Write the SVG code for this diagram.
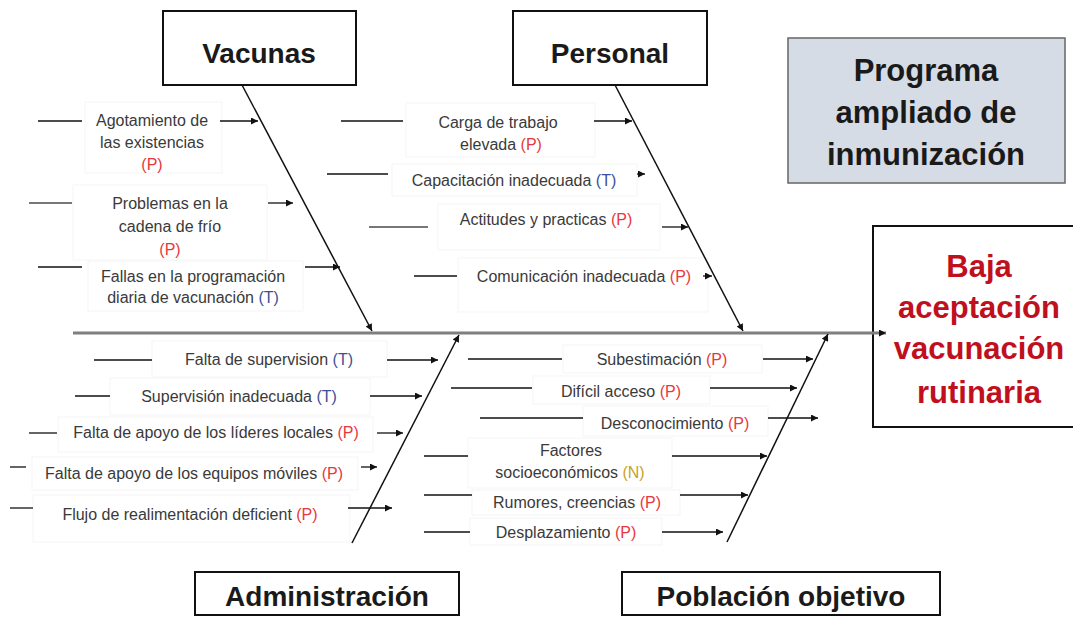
<svg xmlns="http://www.w3.org/2000/svg" width="1073" height="617" viewBox="0 0 1073 617">
<defs>
<style>
.bg{fill:#fff}
.cat{fill:#fff;stroke:#111;stroke-width:2}
.h{font-family:"Liberation Sans",Arial,sans-serif;font-weight:bold;font-size:28px;fill:#1a1a1a;text-anchor:middle}
.hb{font-family:"Liberation Sans",Arial,sans-serif;font-weight:bold;font-size:31px;fill:#1a1a1a;text-anchor:middle}
.eff{font-family:"Liberation Sans",Arial,sans-serif;font-weight:bold;font-size:31px;fill:#c0101e;text-anchor:middle}
.tbox{fill:#fff;stroke:#f5f5f5;stroke-width:1}
.t{font-family:"Liberation Sans",Arial,sans-serif;font-size:16px;fill:#3a3a3a;text-anchor:middle}
.p{fill:#e8383d}
.tt{fill:#3d4f9a}
.n{fill:#c9a227}
.spine{stroke:#7f7f7f;stroke-width:3;fill:none}
.bone{stroke:#111;stroke-width:1.5;fill:none}
.ln{stroke:#111;stroke-width:1.3;fill:none}
.lg{stroke:#777;stroke-width:2;fill:none}
</style>
<marker id="ah" viewBox="0 0 10 10" refX="10" refY="5" markerWidth="9" markerHeight="7" markerUnits="userSpaceOnUse" orient="auto"><path d="M0,0 L10,5 L0,10 z" fill="#111"/></marker>
</defs>
<rect class="bg" x="0" y="0" width="1073" height="617"/>

<g id="nodes">
<g id="vacunas"><rect class="cat" x="163" y="11" width="193" height="74"/><text class="h" x="259" y="63">Vacunas</text></g>
<g id="personal"><rect class="cat" x="513" y="11" width="194" height="74"/><text class="h" x="610" y="63">Personal</text></g>
<g id="programa"><rect x="788" y="38" width="277" height="145" fill="#d6dce5" stroke="#666" stroke-width="1.5"/>
<text class="hb" x="926" y="81">Programa</text><text class="hb" x="926" y="123">ampliado de</text><text class="hb" x="926" y="165">inmunización</text></g>
<g id="efecto"><rect class="cat" x="873" y="226" width="210" height="201"/>
<text class="eff" x="979" y="277">Baja</text><text class="eff" x="979" y="318">aceptación</text><text class="eff" x="979" y="359">vacunación</text><text class="eff" x="979" y="403">rutinaria</text></g>
<g id="administracion"><rect class="cat" x="195" y="572" width="264" height="43"/><text class="h" x="327" y="606">Administración</text></g>
<g id="poblacion"><rect class="cat" x="622" y="572" width="318" height="43"/><text class="h" x="781" y="606">Población objetivo</text></g>

<g id="v1"><rect class="tbox" x="85" y="102" width="137" height="71"/><text class="t" x="152" y="126">Agotamiento de</text><text class="t" x="152" y="148">las existencias</text><text class="t p" x="152" y="170">(P)</text></g>
<g id="v2"><rect class="tbox" x="73" y="185" width="194" height="75"/><text class="t" x="170" y="209">Problemas en la</text><text class="t" x="170" y="232">cadena de frío</text><text class="t p" x="170" y="255">(P)</text></g>
<g id="v3"><rect class="tbox" x="88" y="261" width="215" height="50"/><text class="t" x="193" y="282">Fallas en la programación</text><text class="t" x="193" y="303">diaria de vacunación <tspan class="tt">(T)</tspan></text></g>

<g id="p1"><rect class="tbox" x="406" y="103" width="189" height="54"/><text class="t" x="498" y="128">Carga de trabajo</text><text class="t" x="501" y="150">elevada <tspan class="p">(P)</tspan></text></g>
<g id="p2"><rect class="tbox" x="392" y="164" width="245" height="32"/><text class="t" x="514" y="186">Capacitación inadecuada <tspan class="tt">(T)</tspan></text></g>
<g id="p3"><rect class="tbox" x="438" y="204" width="222" height="46"/><text class="t" x="546" y="225">Actitudes y practicas <tspan class="p">(P)</tspan></text></g>
<g id="p4"><rect class="tbox" x="458" y="258" width="250" height="54"/><text class="t" x="584" y="282">Comunicación inadecuada <tspan class="p">(P)</tspan></text></g>

<g id="a1"><rect class="tbox" x="152" y="341" width="235" height="36"/><text class="t" x="269" y="365">Falta de supervision <tspan class="tt">(T)</tspan></text></g>
<g id="a2"><rect class="tbox" x="110" y="378" width="260" height="37"/><text class="t" x="239" y="402">Supervisión inadecuada <tspan class="tt">(T)</tspan></text></g>
<g id="a3"><rect class="tbox" x="58" y="417" width="315" height="35"/><text class="t" x="216" y="438">Falta de apoyo de los líderes locales <tspan class="p">(P)</tspan></text></g>
<g id="a4"><rect class="tbox" x="32" y="457" width="326" height="33"/><text class="t" x="194" y="479">Falta de apoyo de los equipos móviles <tspan class="p">(P)</tspan></text></g>
<g id="a5"><rect class="tbox" x="33" y="495" width="317" height="47"/><text class="t" x="190" y="520">Flujo de realimentación deficient <tspan class="p">(P)</tspan></text></g>

<g id="o1"><rect class="tbox" x="563" y="345" width="199" height="28"/><text class="t" x="662" y="365">Subestimación <tspan class="p">(P)</tspan></text></g>
<g id="o2"><rect class="tbox" x="533" y="376" width="177" height="28"/><text class="t" x="621" y="397">Difícil acceso <tspan class="p">(P)</tspan></text></g>
<g id="o3"><rect class="tbox" x="583" y="406" width="185" height="30"/><text class="t" x="675" y="429">Desconocimiento <tspan class="p">(P)</tspan></text></g>
<g id="o4"><rect class="tbox" x="468" y="438" width="204" height="50"/><text class="t" x="571" y="456">Factores</text><text class="t" x="570" y="478">socioeconómicos <tspan class="n">(N)</tspan></text></g>
<g id="o5"><rect class="tbox" x="472" y="490" width="208" height="25"/><text class="t" x="577" y="508">Rumores, creencias <tspan class="p">(P)</tspan></text></g>
<g id="o6"><rect class="tbox" x="470" y="518" width="192" height="27"/><text class="t" x="566" y="538">Desplazamiento <tspan class="p">(P)</tspan></text></g>
</g>

<g id="connectors">
<line class="spine" x1="73" y1="333" x2="886" y2="333" marker-end="url(#ah)"/>
<line class="bone" x1="242" y1="85" x2="372" y2="331" marker-end="url(#ah)"/>
<line class="bone" x1="615" y1="85" x2="743" y2="331" marker-end="url(#ah)"/>
<line class="bone" x1="352" y1="543" x2="459" y2="335" marker-end="url(#ah)"/>
<line class="bone" x1="727" y1="542" x2="828" y2="334" marker-end="url(#ah)"/>

<line class="ln" x1="38" y1="121" x2="82" y2="121"/><line class="ln" x1="220" y1="121" x2="258" y2="121" marker-end="url(#ah)"/>
<line class="lg" x1="29" y1="203" x2="72" y2="203"/><line class="ln" x1="268" y1="203" x2="293" y2="203" marker-end="url(#ah)"/>
<line class="ln" x1="38" y1="267" x2="82" y2="267"/><line class="ln" x1="305" y1="267" x2="340" y2="267" marker-end="url(#ah)"/>

<line class="ln" x1="341" y1="121" x2="403" y2="121"/><line class="ln" x1="594" y1="121" x2="632" y2="121" marker-end="url(#ah)"/>
<line class="ln" x1="327" y1="174" x2="388" y2="174"/><line class="ln" x1="637" y1="174" x2="645" y2="174" marker-end="url(#ah)"/>
<line class="lg" x1="369" y1="227" x2="428" y2="227"/><line class="ln" x1="662" y1="227" x2="688" y2="227" marker-end="url(#ah)"/>
<line class="ln" x1="414" y1="276" x2="457" y2="276"/><line class="ln" x1="703" y1="276" x2="712" y2="276" marker-end="url(#ah)"/>

<line class="ln" x1="94" y1="360" x2="152" y2="360"/><line class="ln" x1="387" y1="360" x2="438" y2="360" marker-end="url(#ah)"/>
<line class="ln" x1="75" y1="396" x2="110" y2="396"/><line class="ln" x1="370" y1="396" x2="422" y2="396" marker-end="url(#ah)"/>
<line class="ln" x1="29" y1="433" x2="57" y2="433"/><line class="ln" x1="377" y1="433" x2="403" y2="433" marker-end="url(#ah)"/>
<line class="ln" x1="10" y1="467" x2="26" y2="467"/><line class="ln" x1="361" y1="467" x2="377" y2="467" marker-end="url(#ah)"/>
<line class="ln" x1="10" y1="508" x2="33" y2="508"/><line class="ln" x1="348" y1="508" x2="392" y2="508" marker-end="url(#ah)"/>

<line class="ln" x1="468" y1="359" x2="562" y2="359"/><line class="ln" x1="763" y1="359" x2="813" y2="359" marker-end="url(#ah)"/>
<line class="ln" x1="451" y1="388" x2="532" y2="388"/><line class="ln" x1="710" y1="388" x2="797" y2="388" marker-end="url(#ah)"/>
<line class="ln" x1="480" y1="418" x2="583" y2="418"/><line class="ln" x1="768" y1="418" x2="818" y2="418" marker-end="url(#ah)"/>
<line class="ln" x1="424" y1="456" x2="468" y2="456"/><line class="ln" x1="672" y1="456" x2="767" y2="456" marker-end="url(#ah)"/>
<line class="ln" x1="424" y1="495" x2="472" y2="495"/><line class="ln" x1="680" y1="495" x2="748" y2="495" marker-end="url(#ah)"/>
<line class="ln" x1="424" y1="532" x2="470" y2="532"/><line class="ln" x1="662" y1="532" x2="723" y2="532" marker-end="url(#ah)"/>
</g>
</svg>
